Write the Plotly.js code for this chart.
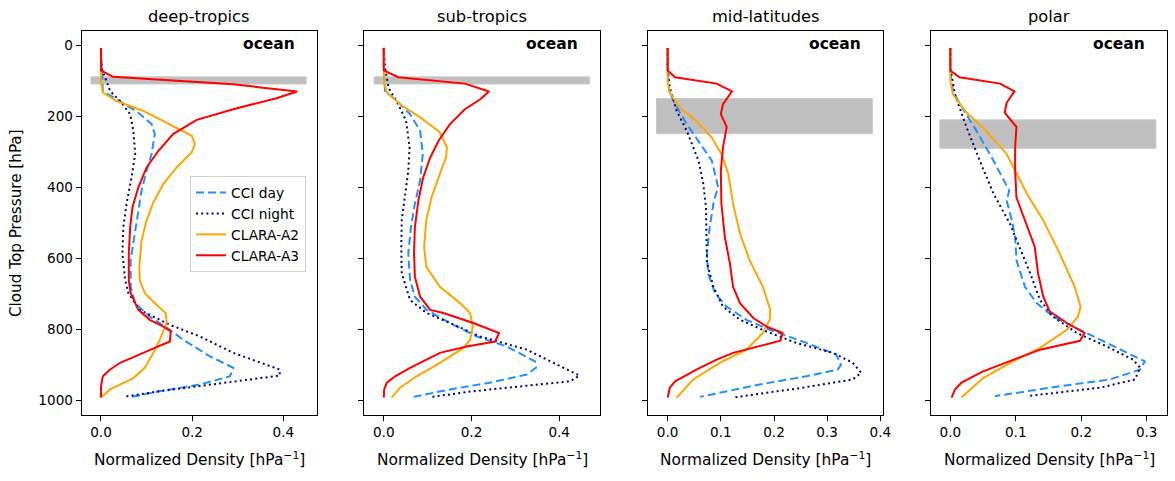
<!DOCTYPE html>
<html>
<head>
<meta charset="utf-8">
<script src="https://cdn.plot.ly/plotly-3.0.1.min.js"></script>
<style>html,body{margin:0;padding:0;background:#fff;}#chart{width:1175px;height:481px;}</style>
</head>
<body>
<div id="chart"></div>
<script>
// ---------- data ----------
const panelTitles = ["deep-tropics", "sub-tropics", "mid-latitudes", "polar"];
const seriesNames = ["CCI day", "CCI night", "CLARA-A2", "CLARA-A3"];
const regionLabel = "ocean";
const yTickVals = [0, 200, 400, 600, 800, 1000];

// deep-tropics
const dt_day_p = [7.5,73,129,152,190,222,250,306,353,409,465,530,605,680,726,764,801,829,876,908,932,955,974,990];
const dt_day_x = [0,0.002,0.004,0.034,0.082,0.111,0.118,0.111,0.1,0.089,0.082,0.075,0.065,0.065,0.075,0.107,0.151,0.18,0.239,0.29,0.283,0.217,0.129,0.067];
const dt_night_p = [7.5,63,129,157,194,241,306,372,446,512,586,661,698,745,787,820,866,913,930,950,974,990];
const dt_night_x = [0,0.001,0.02,0.042,0.064,0.071,0.075,0.067,0.056,0.049,0.047,0.053,0.06,0.085,0.151,0.217,0.29,0.392,0.392,0.275,0.129,0.049];
const dt_a2_p = [7.5,73,105,133,157,185,232,255,278,301,344,390,442,493,549,624,661,698,731,754,782,829,866,908,937,969,992];
const dt_a2_x = [0,0,0,0.004,0.034,0.093,0.166,0.199,0.206,0.199,0.166,0.137,0.115,0.1,0.089,0.084,0.085,0.096,0.122,0.142,0.144,0.129,0.115,0.096,0.071,0.02,0];
const dt_a3_p = [7.5,71,89,110,130,149,180,210,250,297,344,400,456,512,586,661,698,745,773,792,806,834,852,871,894,913,932,960,992];
const dt_a3_x = [0,0,0.026,0.29,0.43,0.385,0.29,0.21,0.158,0.126,0.10,0.082,0.069,0.064,0.061,0.061,0.065,0.082,0.107,0.137,0.153,0.151,0.118,0.085,0.042,0.02,0.004,0,0];

// sub-tropics
const st_day_p = [7.5,73,129,157,194,241,306,381,446,512,586,661,708,745,782,820,848,890,908,927,950,969,990];
const st_day_x = [0,0,0.003,0.03,0.06,0.083,0.089,0.083,0.071,0.062,0.056,0.06,0.071,0.098,0.151,0.212,0.28,0.345,0.347,0.326,0.242,0.151,0.068];
const st_night_p = [7.5,63,120,166,213,288,353,418,493,568,642,717,754,782,820,857,904,930,946,960,974,990];
const st_night_x = [0,0.003,0.011,0.033,0.051,0.059,0.056,0.049,0.041,0.04,0.041,0.06,0.098,0.151,0.22,0.326,0.402,0.446,0.425,0.318,0.204,0.109];
const st_a2_p = [7.5,73,105,133,166,203,245,288,316,362,428,493,568,624,680,726,754,792,829,852,894,932,964,992];
const st_a2_x = [0,0,0.001,0.007,0.037,0.083,0.128,0.144,0.142,0.128,0.109,0.097,0.092,0.097,0.128,0.174,0.197,0.203,0.197,0.182,0.128,0.075,0.037,0.018];
const st_a3_p = [7.5,71,90,108,130,152,180,222,269,316,372,437,512,586,652,708,745,754,782,810,834,848,866,908,932,950,969,992];
const st_a3_x = [0,0,0.033,0.185,0.24,0.22,0.185,0.151,0.125,0.106,0.09,0.079,0.071,0.069,0.071,0.083,0.106,0.136,0.204,0.263,0.254,0.189,0.128,0.06,0.026,0.007,0.001,0];

// mid-latitudes
const ml_day_p = [7.5,73,129,166,222,278,325,400,437,512,586,642,698,736,773,801,838,871,899,913,932,955,990];
const ml_day_x = [0,0,0.003,0.014,0.036,0.061,0.083,0.095,0.087,0.079,0.074,0.076,0.089,0.111,0.148,0.192,0.261,0.317,0.326,0.32,0.261,0.173,0.061];
const ml_night_p = [7.5,63,120,185,241,325,390,456,540,614,680,736,773,806,838,866,894,922,941,964,992];
const ml_night_x = [0,0,0.004,0.017,0.036,0.058,0.067,0.072,0.073,0.074,0.086,0.104,0.136,0.186,0.242,0.311,0.348,0.364,0.348,0.254,0.123];
const ml_a2_p = [7.5,73,105,133,176,213,260,306,362,446,530,605,680,745,773,810,857,894,941,992];
const ml_a2_x = [0,0,0,0.004,0.023,0.054,0.083,0.101,0.114,0.123,0.136,0.154,0.179,0.193,0.192,0.179,0.148,0.098,0.048,0.017];
const ml_a3_p = [7.5,71,90,108,130,166,194,230,288,353,446,540,614,680,726,768,792,810,832,866,885,913,946,964,992];
const ml_a3_x = [0,0,0.014,0.092,0.121,0.104,0.1,0.111,0.104,0.1,0.101,0.1075,0.117,0.123,0.136,0.161,0.186,0.216,0.212,0.123,0.092,0.054,0.014,0.004,0];

// polar
const po_day_p = [7.5,73,129,166,241,325,409,437,493,540,605,680,726,764,810,857,890,913,941,960,988];
const po_day_x = [0,0,0.004,0.015,0.04,0.066,0.09,0.086,0.094,0.099,0.101,0.114,0.132,0.157,0.208,0.259,0.297,0.29,0.244,0.167,0.068];
const po_night_p = [7.5,63,138,232,325,418,502,568,642,717,764,810,848,885,908,941,964,988];
const po_night_x = [0,0,0.007,0.025,0.045,0.066,0.091,0.106,0.122,0.137,0.157,0.193,0.239,0.279,0.29,0.282,0.229,0.117];
const po_a2_p = [7.5,73,101,138,190,241,306,353,418,493,586,680,736,764,801,852,890,937,992];
const po_a2_x = [0,0,0,0.004,0.025,0.055,0.086,0.099,0.117,0.142,0.167,0.19,0.199,0.195,0.178,0.137,0.096,0.05,0.017];
const po_a3_p = [7.5,71,90,108,130,162,190,230,288,353,428,493,568,642,708,750,782,810,832,857,885,918,950,969,992];
const po_a3_x = [0,0,0.014,0.076,0.098,0.086,0.083,0.101,0.099,0.099,0.101,0.114,0.129,0.134,0.142,0.152,0.178,0.205,0.198,0.137,0.096,0.05,0.017,0.007,0.002];

// shaded pressure bands per panel [top, bottom] (hPa) and x extent
const bandP = [[89,109],[89,109],[150,249],[210,290]];
const bandX = [[-0.022,0.45],[-0.022,0.469],[-0.021,0.385],[-0.016,0.314]];

// ---------- layout helpers ----------
const W = 1175, H = 481;
const colors = ["#1e90ff", "#000080", "#ffa500", "#ff0000"];
const dashes = ["8px,4px", "2px,3.2px", "solid", "solid"];
const allData = [
  [[dt_day_x,dt_day_p],[dt_night_x,dt_night_p],[dt_a2_x,dt_a2_p],[dt_a3_x,dt_a3_p]],
  [[st_day_x,st_day_p],[st_night_x,st_night_p],[st_a2_x,st_a2_p],[st_a3_x,st_a3_p]],
  [[ml_day_x,ml_day_p],[ml_night_x,ml_night_p],[ml_a2_x,ml_a2_p],[ml_a3_x,ml_a3_p]],
  [[po_day_x,po_day_p],[po_night_x,po_night_p],[po_a2_x,po_a2_p],[po_a3_x,po_a3_p]]
];
const pxLeft = [81.7, 364, 648, 931];
const pxRight = [317, 600, 883, 1167];
const pxTop = 30.7, pxBottom = 415;
const xRanges = [[-0.0423,0.4737],[-0.045,0.493],[-0.037,0.405],[-0.0295,0.331]];
const xTicks = [[0,0.2,0.4],[0,0.2,0.4],[0,0.1,0.2,0.3,0.4],[0,0.1,0.2,0.3]];
const yRange = [1041, -41];

const traces = [];
const layout = {
  width: W, height: H,
  margin: {l:0, r:0, t:0, b:0},
  paper_bgcolor: "#fff", plot_bgcolor: "#fff",
  font: {family: "DejaVu Sans", color: "#000", size: 12},
  showlegend: true,
  legend: {
    x: 190/W, y: (H-176)/H, xanchor: "left", yanchor: "top",
    bgcolor: "rgba(255,255,255,0.8)", bordercolor: "#d0d0d0", borderwidth: 1,
    font: {family: "DejaVu Sans", size: 13.8},
    tracegroupgap: 0, itemwidth: 30
  },
  shapes: [], annotations: []
};

const yDom = [(H-pxBottom)/H, (H-pxTop)/H];
for (let i = 0; i < 4; i++) {
  const sfx = i === 0 ? "" : String(i+1);
  const xa = "x" + sfx, ya = "y" + sfx;
  layout["xaxis" + sfx] = {
    domain: [pxLeft[i]/W, pxRight[i]/W], range: xRanges[i], anchor: ya,
    tickvals: xTicks[i], ticktext: xTicks[i].map(v => v.toFixed(1)),
    ticks: "outside", ticklen: 5, tickwidth: 1, tickcolor: "#000",
    showline: true, linecolor: "#000", linewidth: 1, mirror: true,
    showgrid: false, zeroline: false,
    tickfont: {family: "DejaVu Sans", size: 13.6}
  };
  layout["yaxis" + sfx] = {
    domain: yDom, range: yRange, anchor: xa,
    tickvals: yTickVals, ticktext: yTickVals.map(v => String(v)),
    showticklabels: i === 0,
    ticks: "outside", ticklen: 5, tickwidth: 1, tickcolor: "#000",
    showline: true, linecolor: "#000", linewidth: 1, mirror: true,
    showgrid: false, zeroline: false,
    tickfont: {family: "DejaVu Sans", size: 13.6}
  };
  layout.shapes.push({
    type: "rect", xref: xa, yref: ya, layer: "below",
    x0: bandX[i][0], x1: bandX[i][1], y0: bandP[i][0], y1: bandP[i][1],
    fillcolor: "#bfbfbf", line: {width: 1, color: "#c8c8c8"}
  });
  for (let s = 0; s < 4; s++) {
    traces.push({
      type: "scatter", mode: "lines",
      x: allData[i][s][0], y: allData[i][s][1],
      xaxis: xa, yaxis: ya,
      name: seriesNames[s], showlegend: i === 0,
      line: {color: colors[s], width: 2, dash: dashes[s]}
    });
  }
  const cx = (pxLeft[i] + pxRight[i]) / 2 / W;
  layout.annotations.push({
    text: panelTitles[i], xref: "paper", yref: "paper", x: cx, y: (H-17)/H,
    xanchor: "center", yanchor: "middle", showarrow: false,
    font: {family: "DejaVu Sans", size: 16.3}
  });
  layout.annotations.push({
    text: "Normalized Density [hPa<sup>−1</sup>]", xref: "paper", yref: "paper", x: cx, y: (H-459)/H,
    xanchor: "center", yanchor: "middle", showarrow: false,
    font: {family: "DejaVu Sans", size: 15.4}
  });
  layout.annotations.push({
    text: "<b>" + regionLabel + "</b>", xref: "paper", yref: "paper",
    x: (pxRight[i] - 20) / W, y: (H-44)/H,
    xanchor: "right", yanchor: "middle", showarrow: false,
    font: {family: "DejaVu Sans", size: 15.5}
  });
}
layout.annotations.push({
  text: "Cloud Top Pressure [hPa]", xref: "paper", yref: "paper", x: 16/W, y: (H-223)/H,
  xanchor: "center", yanchor: "middle", textangle: -90, showarrow: false,
  font: {family: "DejaVu Sans", size: 15.2}
});

Plotly.newPlot("chart", traces, layout, {staticPlot: true, displayModeBar: false});
</script>
</body>
</html>
